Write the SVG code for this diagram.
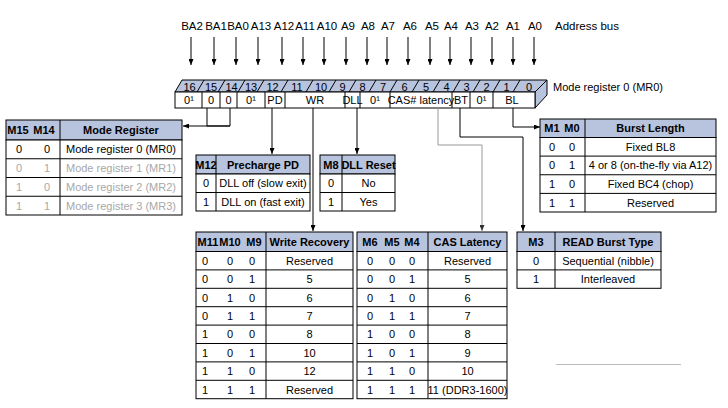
<svg xmlns="http://www.w3.org/2000/svg" width="728" height="408" viewBox="0 0 728 408">
<style>
text{font-family:"Liberation Sans Narrow","Liberation Sans",Arial,sans-serif;font-size:11px;fill:#000;text-anchor:middle}
.l{text-anchor:start}
.b{font-weight:bold}
.g{fill:#a8a8a8}
.ab{font-size:11.5px}
.hd{fill:#b8c3dd;stroke:#000;stroke-width:1}
.cell{fill:#fff;stroke:#000;stroke-width:1}
.ln{stroke:#000;stroke-width:1;fill:none}
.c{stroke:#000;stroke-width:1;fill:none}
.cg{stroke:#999;stroke-width:1;fill:none}
</style>
<defs>
<marker id="ah" viewBox="0 0 6 5" refX="6" refY="2.5" markerWidth="6" markerHeight="5" orient="auto" markerUnits="userSpaceOnUse"><path d="M0,0 L6,2.5 L0,5 z" fill="#000"/></marker>
<marker id="ahg" viewBox="0 0 6 5" refX="6" refY="2.5" markerWidth="6" markerHeight="5" orient="auto" markerUnits="userSpaceOnUse"><path d="M0,0 L6,2.5 L0,5 z" fill="#333"/></marker>
</defs>

<g id="address-bus">
<text x="192" y="30" class="ab">BA2</text>
<text x="216" y="30" class="ab">BA1</text>
<text x="238" y="30" class="ab">BA0</text>
<text x="261" y="30" class="ab">A13</text>
<text x="284" y="30" class="ab">A12</text>
<text x="305" y="30" class="ab">A11</text>
<text x="327" y="30" class="ab">A10</text>
<text x="348" y="30" class="ab">A9</text>
<text x="368" y="30" class="ab">A8</text>
<text x="388" y="30" class="ab">A7</text>
<text x="410" y="30" class="ab">A6</text>
<text x="432" y="30" class="ab">A5</text>
<text x="451" y="30" class="ab">A4</text>
<text x="472" y="30" class="ab">A3</text>
<text x="492" y="30" class="ab">A2</text>
<text x="513" y="30" class="ab">A1</text>
<text x="535" y="30" class="ab">A0</text>
<text x="555" y="30" class="l ab">Address bus</text>
<g class="c" marker-end="url(#ah)">
<line x1="191" y1="37" x2="191" y2="65"/>
<line x1="214" y1="37" x2="214" y2="65"/>
<line x1="236" y1="37" x2="236" y2="65"/>
<line x1="258" y1="37" x2="258" y2="65"/>
<line x1="282" y1="37" x2="282" y2="65"/>
<line x1="303" y1="37" x2="303" y2="65"/>
<line x1="324" y1="37" x2="324" y2="65"/>
<line x1="346" y1="37" x2="346" y2="65"/>
<line x1="367" y1="37" x2="367" y2="65"/>
<line x1="387" y1="37" x2="387" y2="65"/>
<line x1="408" y1="37" x2="408" y2="65"/>
<line x1="430" y1="37" x2="430" y2="65"/>
<line x1="450" y1="37" x2="450" y2="65"/>
<line x1="471" y1="37" x2="471" y2="65"/>
<line x1="492" y1="37" x2="492" y2="65"/>
<line x1="513" y1="37" x2="513" y2="65"/>
<line x1="534" y1="37" x2="534" y2="65"/>
</g>
</g>

<g id="mode-register">
<polygon points="175,92 182,80 547,80 535,92" class="hd"/>
<polygon points="535,92 547,80 547,95 535,108" class="hd"/>
<rect x="175" y="92" width="360" height="16" class="cell"/>
<g class="ln">
<line x1="197" y1="92" x2="204" y2="80"/>
<line x1="218" y1="92" x2="225" y2="80"/>
<line x1="238" y1="92" x2="245" y2="80"/>
<line x1="257" y1="92" x2="264" y2="80"/>
<line x1="281" y1="92" x2="288" y2="80"/>
<line x1="306" y1="92" x2="313" y2="80"/>
<line x1="329" y1="92" x2="336" y2="80"/>
<line x1="349" y1="92" x2="356" y2="80"/>
<line x1="369" y1="92" x2="376" y2="80"/>
<line x1="390" y1="92" x2="397" y2="80"/>
<line x1="412" y1="92" x2="419" y2="80"/>
<line x1="433" y1="92" x2="440" y2="80"/>
<line x1="453" y1="92" x2="460" y2="80"/>
<line x1="473" y1="92" x2="480" y2="80"/>
<line x1="493" y1="92" x2="500" y2="80"/>
<line x1="513" y1="92" x2="520" y2="80"/>
<line x1="202" y1="92" x2="202" y2="108"/>
<line x1="220" y1="92" x2="220" y2="108"/>
<line x1="237" y1="92" x2="237" y2="108"/>
<line x1="265" y1="92" x2="265" y2="108"/>
<line x1="285" y1="92" x2="285" y2="108"/>
<line x1="345" y1="92" x2="345" y2="108"/>
<line x1="360" y1="92" x2="360" y2="108"/>
<line x1="390" y1="92" x2="390" y2="108"/>
<line x1="452" y1="92" x2="452" y2="108"/>
<line x1="470" y1="92" x2="470" y2="108"/>
<line x1="493" y1="92" x2="493" y2="108"/>
</g>
<text x="189.5" y="90.5">16</text>
<text x="211" y="90.5">15</text>
<text x="231.5" y="90.5">14</text>
<text x="251" y="90.5">13</text>
<text x="272.5" y="90.5">12</text>
<text x="297" y="90.5">11</text>
<text x="321" y="90.5">10</text>
<text x="342.5" y="90.5">9</text>
<text x="362.5" y="90.5">8</text>
<text x="383" y="90.5">7</text>
<text x="404.5" y="90.5">6</text>
<text x="426" y="90.5">5</text>
<text x="446.5" y="90.5">4</text>
<text x="466.5" y="90.5">3</text>
<text x="486.5" y="90.5">2</text>
<text x="506.5" y="90.5">1</text>
<text x="529" y="90.5">0</text>
<text x="189" y="104">0¹</text>
<text x="211" y="104">0</text>
<text x="228.5" y="104">0</text>
<text x="251" y="104">0¹</text>
<text x="275" y="104">PD</text>
<text x="315" y="104">WR</text>
<text x="352.5" y="104">DLL</text>
<text x="375" y="104">0¹</text>
<text x="421" y="104">CAS# latency</text>
<text x="461" y="104">BT</text>
<text x="481.5" y="104">0¹</text>
<text x="512" y="104">BL</text>
<text x="553" y="91" class="l">Mode register 0 (MR0)</text>
</g>

<g id="connectors">
<polyline class="c" points="207,108 207,126 230,126"/>
<polyline class="c" points="230,108 230,126 183,126" marker-end="url(#ah)"/>
<line class="c" x1="272" y1="108" x2="272" y2="154" marker-end="url(#ah)"/>
<line class="c" x1="357" y1="108" x2="357" y2="154" marker-end="url(#ah)"/>
<line class="c" x1="313" y1="108" x2="313" y2="231" marker-end="url(#ah)"/>
<polyline class="cg" points="438,108 438,145 482,145 482,231" marker-end="url(#ahg)"/>
<polyline class="c" points="460,108 460,137 523,137 523,231" marker-end="url(#ah)"/>
<polyline class="c" points="513,108 513,127 540,127" marker-end="url(#ah)"/>
</g>

<g id="table-mode-register">
<rect x="6" y="120" width="176" height="20" class="hd"/>
<rect x="6" y="140" width="176" height="75" class="cell"/>
<g class="ln">
<line x1="60" y1="120" x2="60" y2="215"/>
<line x1="6" y1="158.75" x2="182" y2="158.75"/>
<line x1="6" y1="177.5" x2="182" y2="177.5"/>
<line x1="6" y1="196.25" x2="182" y2="196.25"/>
</g>
<text x="18" y="134" class="b">M15</text>
<text x="44" y="134" class="b">M14</text>
<text x="121" y="134" class="b">Mode Register</text>
<text x="19" y="153.4">0</text><text x="47" y="153.4">0</text><text x="121" y="153.4">Mode register 0 (MR0)</text>
<text x="19" y="172.1" class="g">0</text><text x="47" y="172.1" class="g">1</text><text x="121" y="172.1" class="g">Mode register 1 (MR1)</text>
<text x="19" y="190.9" class="g">1</text><text x="47" y="190.9" class="g">0</text><text x="121" y="190.9" class="g">Mode register 2 (MR2)</text>
<text x="19" y="209.6" class="g">1</text><text x="47" y="209.6" class="g">1</text><text x="121" y="209.6" class="g">Mode register 3 (MR3)</text>
</g>

<g id="table-precharge-pd">
<rect x="196" y="155" width="114" height="19" class="hd"/>
<rect x="196" y="174" width="114" height="37" class="cell"/>
<g class="ln">
<line x1="216" y1="155" x2="216" y2="211"/>
<line x1="196" y1="192.5" x2="310" y2="192.5"/>
</g>
<text x="206" y="168.5" class="b">M12</text>
<text x="263" y="168.5" class="b">Precharge PD</text>
<text x="206" y="187.2">0</text><text x="263" y="187.2">DLL off (slow exit)</text>
<text x="206" y="205.7">1</text><text x="263" y="205.7">DLL on (fast exit)</text>
</g>

<g id="table-dll-reset">
<rect x="320" y="155" width="75" height="19" class="hd"/>
<rect x="320" y="174" width="75" height="37" class="cell"/>
<g class="ln">
<line x1="342" y1="155" x2="342" y2="211"/>
<line x1="320" y1="192.5" x2="395" y2="192.5"/>
</g>
<text x="331" y="168.5" class="b">M8</text>
<text x="368.5" y="168.5" class="b">DLL Reset</text>
<text x="331" y="187.2">0</text><text x="368.5" y="187.2">No</text>
<text x="331" y="205.7">1</text><text x="368.5" y="205.7">Yes</text>
</g>

<g id="table-burst-length">
<rect x="540" y="119" width="176" height="18.5" class="hd"/>
<rect x="540" y="137.5" width="176" height="74.5" class="cell"/>
<g class="ln">
<line x1="585" y1="119" x2="585" y2="212"/>
<line x1="540" y1="156.1" x2="716" y2="156.1"/>
<line x1="540" y1="174.75" x2="716" y2="174.75"/>
<line x1="540" y1="193.4" x2="716" y2="193.4"/>
</g>
<text x="552" y="132" class="b">M1</text>
<text x="572" y="132" class="b">M0</text>
<text x="650.5" y="132" class="b">Burst Length</text>
<text x="552" y="150.8">0</text><text x="572" y="150.8">0</text><text x="650.5" y="150.8">Fixed BL8</text>
<text x="552" y="169.4">0</text><text x="572" y="169.4">1</text><text x="650.5" y="169.4">4 or 8 (on-the-fly via A12)</text>
<text x="552" y="188.1">1</text><text x="572" y="188.1">0</text><text x="650.5" y="188.1">Fixed BC4 (chop)</text>
<text x="552" y="206.7">1</text><text x="572" y="206.7">1</text><text x="650.5" y="206.7">Reserved</text>
</g>

<g id="table-write-recovery">
<rect x="196" y="232" width="157" height="19.5" class="hd"/>
<rect x="196" y="251.5" width="157" height="147.2" class="cell"/>
<g class="ln">
<line x1="266" y1="232" x2="266" y2="398.7"/>
<line x1="196" y1="269.9" x2="353" y2="269.9"/>
<line x1="196" y1="288.3" x2="353" y2="288.3"/>
<line x1="196" y1="306.7" x2="353" y2="306.7"/>
<line x1="196" y1="325.1" x2="353" y2="325.1"/>
<line x1="196" y1="343.5" x2="353" y2="343.5"/>
<line x1="196" y1="361.9" x2="353" y2="361.9"/>
<line x1="196" y1="380.3" x2="353" y2="380.3"/>
</g>
<text x="208" y="245.7" class="b">M11</text>
<text x="230" y="245.7" class="b">M10</text>
<text x="254" y="245.7" class="b">M9</text>
<text x="309.5" y="245.7" class="b">Write Recovery</text>
<text x="205" y="264.7">0</text><text x="230" y="264.7">0</text><text x="252" y="264.7">0</text><text x="309.5" y="264.7">Reserved</text>
<text x="205" y="283.1">0</text><text x="230" y="283.1">0</text><text x="252" y="283.1">1</text><text x="309.5" y="283.1">5</text>
<text x="205" y="301.5">0</text><text x="230" y="301.5">1</text><text x="252" y="301.5">0</text><text x="309.5" y="301.5">6</text>
<text x="205" y="319.9">0</text><text x="230" y="319.9">1</text><text x="252" y="319.9">1</text><text x="309.5" y="319.9">7</text>
<text x="205" y="338.3">1</text><text x="230" y="338.3">0</text><text x="252" y="338.3">0</text><text x="309.5" y="338.3">8</text>
<text x="205" y="356.7">1</text><text x="230" y="356.7">0</text><text x="252" y="356.7">1</text><text x="309.5" y="356.7">10</text>
<text x="205" y="375.1">1</text><text x="230" y="375.1">1</text><text x="252" y="375.1">0</text><text x="309.5" y="375.1">12</text>
<text x="205" y="393.5">1</text><text x="230" y="393.5">1</text><text x="252" y="393.5">1</text><text x="309.5" y="393.5">Reserved</text>
</g>

<g id="table-cas-latency">
<rect x="357" y="232" width="150" height="19.5" class="hd"/>
<rect x="357" y="251.5" width="150" height="147.2" class="cell"/>
<g class="ln">
<line x1="428" y1="232" x2="428" y2="398.7"/>
<line x1="357" y1="269.9" x2="507" y2="269.9"/>
<line x1="357" y1="288.3" x2="507" y2="288.3"/>
<line x1="357" y1="306.7" x2="507" y2="306.7"/>
<line x1="357" y1="325.1" x2="507" y2="325.1"/>
<line x1="357" y1="343.5" x2="507" y2="343.5"/>
<line x1="357" y1="361.9" x2="507" y2="361.9"/>
<line x1="357" y1="380.3" x2="507" y2="380.3"/>
</g>
<text x="370" y="245.7" class="b">M6</text>
<text x="392" y="245.7" class="b">M5</text>
<text x="412" y="245.7" class="b">M4</text>
<text x="467.5" y="245.7" class="b">CAS Latency</text>
<text x="370" y="264.7">0</text><text x="392" y="264.7">0</text><text x="412" y="264.7">0</text><text x="467.5" y="264.7">Reserved</text>
<text x="370" y="283.1">0</text><text x="392" y="283.1">0</text><text x="412" y="283.1">1</text><text x="467.5" y="283.1">5</text>
<text x="370" y="301.5">0</text><text x="392" y="301.5">1</text><text x="412" y="301.5">0</text><text x="467.5" y="301.5">6</text>
<text x="370" y="319.9">0</text><text x="392" y="319.9">1</text><text x="412" y="319.9">1</text><text x="467.5" y="319.9">7</text>
<text x="370" y="338.3">1</text><text x="392" y="338.3">0</text><text x="412" y="338.3">0</text><text x="467.5" y="338.3">8</text>
<text x="370" y="356.7">1</text><text x="392" y="356.7">0</text><text x="412" y="356.7">1</text><text x="467.5" y="356.7">9</text>
<text x="370" y="375.1">1</text><text x="392" y="375.1">1</text><text x="412" y="375.1">0</text><text x="467.5" y="375.1">10</text>
<text x="370" y="393.5">1</text><text x="392" y="393.5">1</text><text x="412" y="393.5">1</text><text x="467.5" y="393.5">11 (DDR3-1600)</text>
</g>

<g id="table-read-burst-type">
<rect x="517" y="232" width="144" height="19.5" class="hd"/>
<rect x="517" y="251.5" width="144" height="36.8" class="cell"/>
<g class="ln">
<line x1="555" y1="232" x2="555" y2="288.3"/>
<line x1="517" y1="269.9" x2="661" y2="269.9"/>
</g>
<text x="536" y="245.7" class="b">M3</text>
<text x="608" y="245.7" class="b">READ Burst Type</text>
<text x="536" y="264.7">0</text><text x="608" y="264.7">Sequential (nibble)</text>
<text x="536" y="283.1">1</text><text x="608" y="283.1">Interleaved</text>
</g>

<line x1="556" y1="364.5" x2="681" y2="364.5" stroke="#bbb" stroke-width="1"/>
</svg>
